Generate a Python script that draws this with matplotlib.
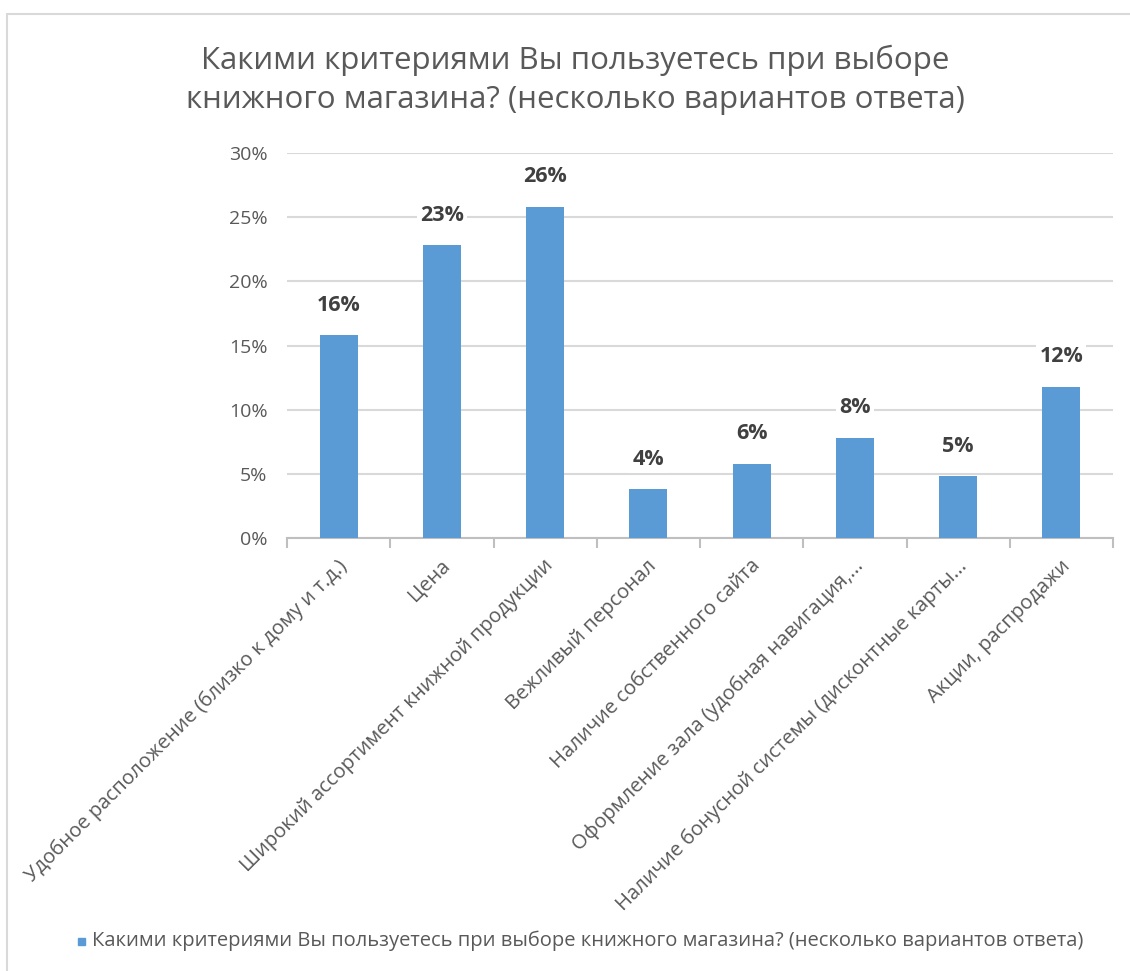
import matplotlib
matplotlib.use("Agg")
import matplotlib.pyplot as plt
from matplotlib.patches import Rectangle
from matplotlib.ticker import FuncFormatter, MultipleLocator

plt.rcParams["font.family"] = ["Open Sans", "DejaVu Sans"]

# Данные опроса
title = "Какими критериями Вы пользуетесь при выборе\nкнижного магазина? (несколько вариантов ответа)"
categories = [
    "Удобное расположение (близко к дому и т.д.)",
    "Цена",
    "Широкий ассортимент книжной продукции",
    "Вежливый персонал",
    "Наличие собственного сайта",
    "Оформление зала (удобная навигация,...",
    "Наличие бонусной системы (дисконтные карты...",
    "Акции, распродажи",
]
shares = [15.8, 22.8, 25.8, 3.8, 5.8, 7.8, 4.8, 11.8]
series_name = "Какими критериями Вы пользуетесь при выборе книжного магазина? (несколько вариантов ответа)"

BAR = "#5b9bd5"
TXT = "#595959"
GRID = "#d9d9d9"

W, H = 1130, 971
fig = plt.figure(figsize=(W / 100, H / 100), dpi=100)

# рамка области диаграммы
fig.patches.append(Rectangle((7 / W, -0.1), 1.2, 1 - 14 / H + 0.1,
                             transform=fig.transFigure, fill=False,
                             edgecolor=GRID, lw=1.5))

ax = fig.add_axes([287 / W, 1 - 538 / H, (1113 - 287) / W, (538 - 153) / H])
x = list(range(len(categories)))
ax.bar(x, shares, width=0.37, color=BAR, zorder=3)
ax.set_xlim(-0.5, len(categories) - 0.5)
ax.set_ylim(0, 30)
ax.yaxis.set_major_locator(MultipleLocator(5))
ax.yaxis.set_major_formatter(FuncFormatter(lambda v, _: f"{v:.0f}%"))
ax.grid(axis="y", color=GRID, lw=1.5, zorder=0)
for s in ("top", "right", "left"):
    ax.spines[s].set_visible(False)
ax.spines["bottom"].set_color("#bfbfbf")
ax.spines["bottom"].set_linewidth(1.5)
ax.tick_params(axis="y", length=0, pad=14, labelsize=14, labelcolor=TXT)

# засечки между категориями
ax.set_xticks([i - 0.5 for i in range(len(categories) + 1)])
ax.set_xticklabels([])
ax.tick_params(axis="x", length=7, width=1.5, color="#bfbfbf", direction="out")

for i, (name, v) in enumerate(zip(categories, shares)):
    ax.annotate(name, xy=(i, 0), xytext=(4, -18), textcoords="offset points",
                rotation=45, rotation_mode="anchor", ha="right", va="center",
                fontsize=14.6, color=TXT)
    ax.annotate(f"{v:.0f}%", xy=(i, v), xytext=(0, 14), textcoords="offset points",
                ha="center", va="bottom", fontsize=15.5, fontweight="bold",
                color="#404040", zorder=4,
                bbox=dict(boxstyle="square,pad=0.15", fc="white", ec="none"))

fig.text(575 / W, 1 - 80 / H, title, ha="center", va="center", fontsize=22.5,
         color=TXT, linespacing=1.4)

# легенда
fig.patches.append(Rectangle((78 / W, 1 - 945 / H), 7 / W, 7 / H,
                             transform=fig.transFigure, color=BAR))
fig.text(92 / W, 1 - 941 / H, series_name, ha="left", va="center",
         fontsize=14.5, color=TXT)

fig.savefig("out.png", dpi=100)
